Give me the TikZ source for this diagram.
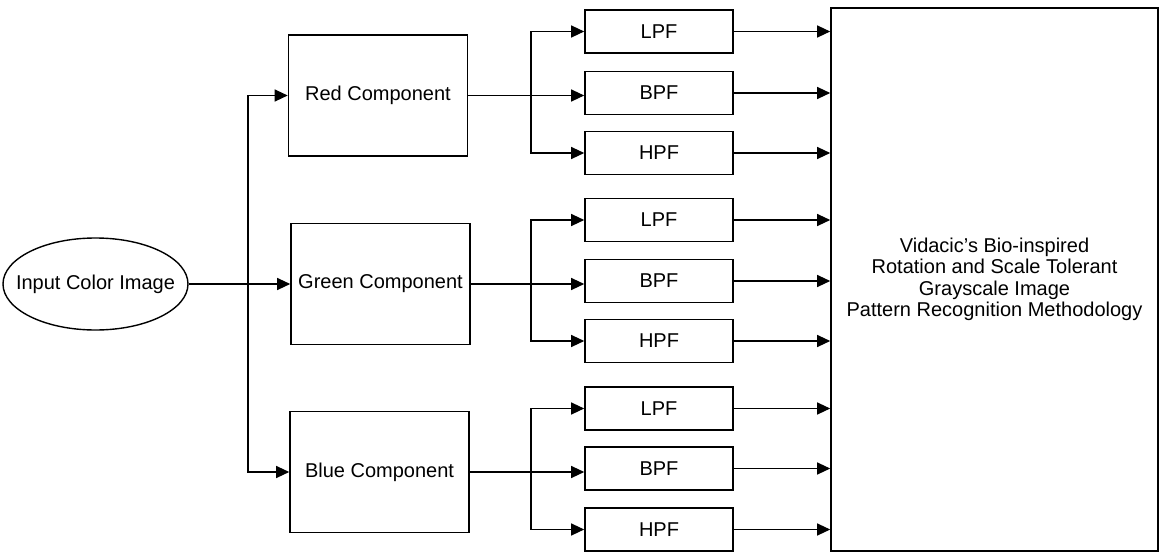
\documentclass[tikz,border=0pt]{standalone}
\usepackage{fontspec}
\setmainfont{Liberation Sans}
\usetikzlibrary{arrows.meta,shapes.geometric}
\tikzset{
  txt/.style={font=\fontsize{20}{21.5}\selectfont},
  box/.style={draw=black, line width=1.6pt, rectangle, inner sep=0pt, align=center, txt},
  comp/.style={box, minimum width=179pt, minimum height=121pt},
  filt/.style={box, minimum width=148pt, minimum height=43pt},
  conn/.style={draw=black, line width=1.2pt},
  arr/.style={conn, -{Triangle[length=13pt,width=12pt]}},
}
\begin{document}
\begin{tikzpicture}[x=1pt,y=-1pt]
\useasboundingbox (0,0) rectangle (1160,554);
% input
\node[draw=black, line width=1.4pt, ellipse, minimum width=185pt, minimum height=92pt,
      inner sep=0pt] (in) at (95.5,284) {};
\node[txt, inner sep=0pt] (intext) at (in.center) {Input Color Image};
% components
\node[comp] (red)   at (378,95.5) {Red Component};
\node[comp] (green) at (380.5,284) {Green Component};
\node[comp] (blue)  at (379.5,472) {Blue Component};
% filters
\node[filt] (lpf1) at (659,31.5) {LPF};
\node[filt] (bpf1) at (659,93)   {BPF};
\node[filt] (hpf1) at (659,153)  {HPF};
\node[filt] (lpf2) at (659,220)  {LPF};
\node[filt] (bpf2) at (659,281)  {BPF};
\node[filt] (hpf2) at (659,341)  {HPF};
\node[filt] (lpf3) at (659,408.5){LPF};
\node[filt] (bpf3) at (659,468.5){BPF};
\node[filt] (hpf3) at (659,529.5){HPF};
% big box
\node[box, minimum width=327pt, minimum height=543pt] (big) at (994.5,279.5)
  {Vidacic's Bio-inspired\\Rotation and Scale Tolerant\\Grayscale Image\\Pattern Recognition Methodology};
% junction columns
\coordinate (tr) at (248,0);
\coordinate (br) at (531,0);
% input to components
\draw[arr] (in.east) -- (green.west);
\draw[arr] (in.east -| tr) |- (red.west);
\draw[arr] (in.east -| tr) |- (blue.west);
% components to filters
\foreach \c/\l/\b/\h in {red/lpf1/bpf1/hpf1, green/lpf2/bpf2/hpf2, blue/lpf3/bpf3/hpf3}{
  \draw[arr] (\c.east) -- (\c.east -| \b.west);
  \draw[arr] (\c.east -| br) |- (\l.west);
  \draw[arr] (\c.east -| br) |- (\h.west);
}
% filters to big box
\foreach \f in {lpf1,bpf1,hpf1,lpf2,bpf2,hpf2,lpf3,bpf3,hpf3}{
  \draw[arr] (\f.east) -- (\f.east -| big.west);
}
\end{tikzpicture}
\end{document}
